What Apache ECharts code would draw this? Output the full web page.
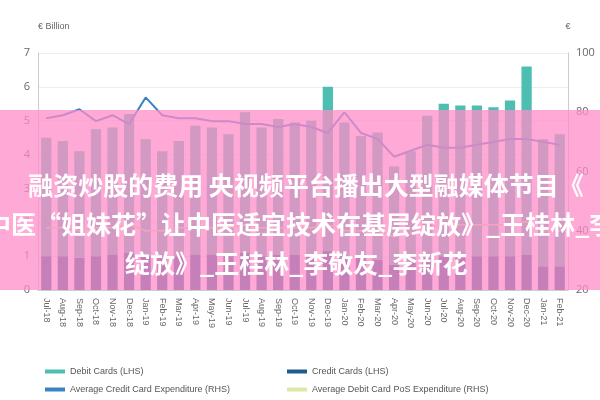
<!DOCTYPE html><html><head><meta charset="utf-8"><script src="https://cdn.jsdelivr.net/npm/echarts@6/dist/echarts.min.js"></script></head><body style="margin:0"><div id="c" style="width:600px;height:400px"></div><script>
const categories=['Jul-18','Aug-18','Sep-18','Oct-18','Nov-18','Dec-18','Jan-19','Feb-19','Mar-19','Apr-19','May-19','Jun-19','Jul-19','Aug-19','Sep-19','Oct-19','Nov-19','Dec-19','Jan-20','Feb-20','Mar-20','Apr-20','May-20','Jun-20','Jul-20','Aug-20','Sep-20','Oct-20','Nov-20','Dec-20','Jan-21','Feb-21'];
const totals=[4.5,4.4,4.1,4.75,4.8,5.2,4.45,4.1,4.4,4.85,4.8,4.6,5.25,4.8,5.05,4.95,5.0,6.0,4.95,4.55,4.65,3.65,4.1,5.15,5.5,5.45,5.45,5.4,5.6,6.6,4.45,4.6];
const credit=[1.0,1.0,0.95,1.0,1.05,1.1,1.0,0.95,1.0,1.05,1.05,1.0,1.1,1.0,1.05,1.05,1.05,1.15,1.0,0.95,0.9,0.75,0.8,0.95,1.0,0.95,1.0,1.0,1.0,1.05,0.7,0.7];
const debit=totals.map((t,i)=>+(t-credit[i]).toFixed(2));
const avgCredit=[78,79,81,77,79,76,85,79,78,78,77,77,76,76,75,76,75,73,80,73,71,65,67,69,68,68,69,70,71,71,70,69];
const avgDebit=[41,41,40,41,41,42,40,40,41,41,41,41,42,41,41,41,41,42,40,40,40,38,39,41,42,42,42,42,42,43,40,40];
const ch=echarts.init(document.getElementById('c'));
const ax={color:'#666',fontFamily:'Open Sans',fontSize:11};
const lg=(name,left,top)=>({left:left,top:top,itemWidth:20,itemHeight:4,icon:'rect',textStyle:{fontSize:9,color:'#555'},data:[name]});
ch.setOption({
animation:false,
grid:{left:38,right:32,top:53,bottom:110},
legend:[lg('Debit Cards (LHS)',40,362),lg('Credit Cards (LHS)',282,362),lg('Average Credit Card Expenditure (RHS)',40,380),lg('Average Debit Card PoS Expenditure (RHS)',282,380)],
xAxis:{type:'category',data:categories,axisLabel:{rotate:-90,fontSize:9,color:'#666',interval:0},axisTick:{show:false},axisLine:{lineStyle:{color:'#ccc'}}},
yAxis:[{type:'value',min:0,max:7,interval:1,name:'€ Billion',nameTextStyle:{fontSize:9,color:'#666',align:'left'},nameGap:22,axisLabel:ax,splitLine:{lineStyle:{color:'#eee'}},axisLine:{show:true,lineStyle:{color:'#ccc'}}},
{type:'value',min:20,max:100,interval:20,name:'€',nameTextStyle:{fontSize:9,color:'#666'},nameGap:22,axisLabel:ax,splitLine:{show:false},axisLine:{show:true,lineStyle:{color:'#ccc'}}}],
series:[
{name:'Credit Cards (LHS)',type:'bar',stack:'a',data:credit,barWidth:'62%',itemStyle:{color:'#1f5d8c'}},
{name:'Debit Cards (LHS)',type:'bar',stack:'a',data:debit,itemStyle:{color:'#4cbfb2'}},
{name:'Average Credit Card Expenditure (RHS)',type:'line',yAxisIndex:1,data:avgCredit,symbol:'none',lineStyle:{color:'#3b82c4',width:2},itemStyle:{color:'#3b82c4'}},
{name:'Average Debit Card PoS Expenditure (RHS)',type:'line',yAxisIndex:1,data:avgDebit,symbol:'none',lineStyle:{color:'#dde8a8',width:1.5},itemStyle:{color:'#dde8a8'}}
],
graphic:[
{type:'rect',shape:{x:0,y:110,width:600,height:180},style:{fill:'rgba(255,140,200,0.75)'},z:100},
{type:'text',x:306,y:185,style:{text:'融资炒股的费用 央视频平台播出大型融媒体节目《',font:'bold 25px "Noto Sans CJK SC"',fill:'#fff',textAlign:'center',textVerticalAlign:'middle'},z:101},
{type:'text',x:-14,y:224,style:{text:'中医“姐妹花”让中医适宜技术在基层绽放》_王桂林_李',font:'bold 25px "Noto Sans CJK SC"',fill:'#fff',textVerticalAlign:'middle'},z:101},
{type:'text',x:125,y:263,style:{text:'绽放》_王桂林_李敬友_李新花',font:'bold 25px "Noto Sans CJK SC"',fill:'#fff',textVerticalAlign:'middle'},z:101}
]});
</script></body></html>
